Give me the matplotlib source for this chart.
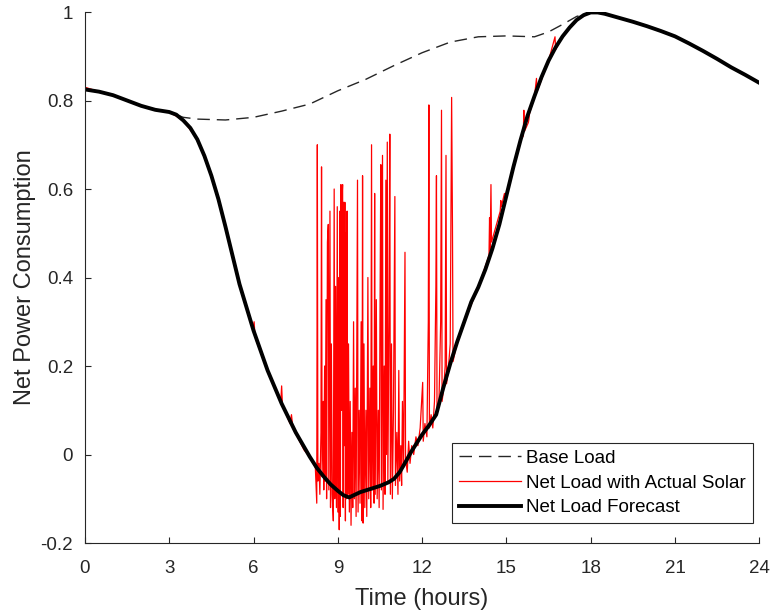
import matplotlib.pyplot as plt

plt.rcParams['font.family'] = ['Liberation Sans', 'DejaVu Sans']

# forecast net load (black)
fc_t = [0, 0.5, 1, 1.5, 2, 2.5, 3, 3.25, 3.5, 3.75, 4, 4.25, 4.5, 4.75, 5,
        5.5, 6, 6.5, 7, 7.5, 8, 8.25, 8.5, 8.75, 9, 9.2, 9.4, 9.6, 9.8, 10,
        10.5, 10.8, 11, 11.2, 11.4, 11.6, 11.8, 12, 12.25, 12.5, 12.75, 13,
        13.25, 13.5, 13.75, 14, 14.25, 14.5, 14.75, 15, 15.25, 15.5, 15.75,
        16, 16.25, 16.5, 16.75, 17, 17.25, 17.5, 17.75, 18, 18.25, 18.5, 19,
        19.5, 20, 20.5, 21, 21.5, 22, 22.5, 23, 23.5, 24]
fc_v = [0.825, 0.82, 0.812, 0.80, 0.788, 0.779, 0.774, 0.768, 0.755, 0.738,
        0.712, 0.675, 0.63, 0.577, 0.515, 0.385, 0.28, 0.19, 0.115, 0.05,
        -0.005, -0.03, -0.05, -0.068, -0.082, -0.092, -0.097, -0.091, -0.085,
        -0.081, -0.071, -0.063, -0.055, -0.04, -0.018, 0.005, 0.025, 0.045,
        0.066, 0.09, 0.15, 0.205, 0.255, 0.30, 0.345, 0.378, 0.418, 0.465,
        0.52, 0.585, 0.65, 0.71, 0.765, 0.81, 0.853, 0.89, 0.92, 0.945,
        0.965, 0.982, 0.993, 0.999, 0.999, 0.996, 0.987, 0.978, 0.968,
        0.957, 0.945, 0.929, 0.912, 0.894, 0.875, 0.858, 0.84]

# base load (dashed)
base_t = [0, 1, 2, 3, 3.5, 4, 5, 6, 7, 8, 9, 10, 11, 12, 13, 14, 15, 16,
          16.5, 17, 17.5, 18, 18.5, 19, 20, 21, 22, 23, 24]
base_v = [0.825, 0.812, 0.788, 0.774, 0.762, 0.758, 0.756, 0.762, 0.776,
          0.792, 0.822, 0.848, 0.879, 0.908, 0.932, 0.944, 0.946, 0.944,
          0.955, 0.972, 0.99, 0.999, 0.996, 0.987, 0.968, 0.945, 0.912,
          0.875, 0.84]

# net load with actual solar (red), (hour, value)
red_pts = [
    (0, 0.83), (0.5, 0.82), (1, 0.812), (1.5, 0.80), (2, 0.788), (2.5, 0.779),
    (3, 0.774), (3.5, 0.755), (4, 0.712), (4.5, 0.63), (5, 0.515), (5.5, 0.385),
    (5.98, 0.285), (6.02, 0.30), (6.05, 0.27), (6.08, 0.26), (6.5, 0.19),
    (6.97, 0.12), (7.0, 0.155), (7.03, 0.11), (7.3, 0.07), (7.35, 0.09),
    (7.4, 0.06), (7.8, 0.01), (8.0, -0.005), (8.2, -0.03),
    (8.25, -0.11), (8.27, 0.70), (8.29, -0.06), (8.33, -0.02), (8.36, -0.09),
    (8.40, 0.05), (8.42, 0.65), (8.44, -0.05), (8.48, 0.12), (8.50, -0.08),
    (8.53, 0.20), (8.55, -0.06), (8.58, 0.35), (8.60, -0.10), (8.63, 0.48),
    (8.66, 0.52), (8.68, -0.08), (8.72, 0.55), (8.74, -0.12), (8.77, 0.25),
    (8.80, -0.09), (8.84, -0.15), (8.87, 0.60), (8.89, -0.10), (8.92, 0.38),
    (8.95, -0.12), (8.98, 0.56), (9.00, -0.13), (9.03, 0.40), (9.05, -0.17),
    (9.07, 0.55), (9.09, -0.14), (9.11, 0.61), (9.13, 0.10), (9.15, 0.58),
    (9.17, 0.61), (9.19, -0.12), (9.21, 0.57), (9.23, 0.02), (9.25, 0.57),
    (9.27, -0.15), (9.29, 0.50), (9.31, -0.10), (9.33, 0.55), (9.35, -0.09),
    (9.38, 0.25), (9.41, -0.13), (9.44, 0.12), (9.47, -0.16), (9.50, 0.05),
    (9.53, -0.12), (9.56, 0.30), (9.59, -0.10), (9.62, 0.15), (9.65, -0.14),
    (9.70, 0.62), (9.72, -0.13), (9.76, 0.10), (9.79, -0.11), (9.83, 0.30),
    (9.86, -0.15), (9.88, 0.63), (9.90, -0.155), (9.93, 0.25), (9.96, -0.12),
    (10.00, 0.10), (10.03, -0.14), (10.07, 0.40), (10.10, -0.10),
    (10.14, 0.15), (10.17, -0.12), (10.20, 0.70), (10.22, -0.08),
    (10.26, 0.20), (10.29, -0.11), (10.31, 0.59), (10.33, -0.09),
    (10.37, 0.35), (10.40, -0.10), (10.44, 0.10), (10.47, -0.12),
    (10.50, 0.30), (10.53, 0.655), (10.55, -0.08), (10.59, 0.676),
    (10.61, -0.124), (10.65, 0.20), (10.68, -0.09), (10.71, 0.62),
    (10.73, 0.0), (10.76, 0.706), (10.78, -0.06), (10.82, 0.30),
    (10.85, 0.724), (10.87, -0.09), (10.91, 0.25), (10.94, -0.10),
    (10.98, 0.10), (11.03, 0.583), (11.05, -0.07), (11.10, 0.05),
    (11.14, -0.09), (11.17, 0.19), (11.20, -0.06), (11.24, 0.02),
    (11.27, -0.07), (11.30, 0.12), (11.34, -0.03), (11.39, 0.457),
    (11.41, -0.01), (11.47, -0.04), (11.52, 0.03), (11.57, -0.02),
    (11.63, 0.02), (11.70, 0.0), (11.78, 0.04), (11.85, 0.02), (11.93, 0.06),
    (12.02, 0.163), (12.04, 0.03), (12.10, 0.07), (12.17, 0.04),
    (12.22, 0.30), (12.24, 0.79), (12.26, 0.06), (12.32, 0.09),
    (12.38, 0.06), (12.44, 0.12), (12.49, 0.38), (12.51, 0.63),
    (12.53, 0.10), (12.60, 0.12), (12.66, 0.30), (12.69, 0.778),
    (12.71, 0.12), (12.77, 0.15), (12.82, 0.20), (12.85, 0.676),
    (12.87, 0.16), (12.93, 0.19), (13.00, 0.25), (13.05, 0.807),
    (13.08, 0.515), (13.10, 0.21), (13.25, 0.255), (13.5, 0.30), (14.0, 0.378),
    (14.38, 0.45), (14.40, 0.535), (14.42, 0.46), (14.45, 0.61),
    (14.47, 0.48), (14.78, 0.55), (14.80, 0.574), (14.82, 0.56),
    (14.93, 0.59), (14.95, 0.57), (15.5, 0.71), (15.6, 0.72), (15.62, 0.778),
    (15.64, 0.73), (15.78, 0.75), (15.80, 0.757), (15.82, 0.77), (16.0, 0.81),
    (16.07, 0.85), (16.09, 0.82), (16.5, 0.89), (16.73, 0.944),
    (16.75, 0.915), (17, 0.945), (17.5, 0.982), (18, 0.999), (18.5, 0.996),
    (19, 0.987), (20, 0.968), (21, 0.945), (22, 0.912), (23, 0.875),
    (24, 0.84),
]
red_t = [p[0] for p in red_pts]
red_v = [p[1] for p in red_pts]

ink = '#262626'

fig = plt.figure(figsize=(7.71, 6.16), dpi=100)
ax = fig.add_axes([0.1102, 0.1185, 0.8746, 0.862])

ax.plot(base_t, base_v, color=ink, linewidth=1.0, dashes=(9, 5), label='Base Load')
ax.plot(red_t, red_v, color='red', linewidth=0.9, label='Net Load with Actual Solar')
ax.plot(fc_t, fc_v, color='black', linewidth=2.8, label='Net Load Forecast')

ax.set_xlim(0, 24)
ax.set_ylim(-0.2, 1)
ax.set_xticks([0, 3, 6, 9, 12, 15, 18, 21, 24])
ax.set_yticks([-0.2, 0, 0.2, 0.4, 0.6, 0.8, 1])
ax.set_yticklabels(['-0.2', '0', '0.2', '0.4', '0.6', '0.8', '1'])

ax.spines['top'].set_visible(False)
ax.spines['right'].set_visible(False)
for s in ['left', 'bottom']:
    ax.spines[s].set_color(ink)
    ax.spines[s].set_linewidth(0.8)
ax.tick_params(direction='in', length=4, width=0.8, colors=ink, labelsize=13.5)
ax.tick_params(axis='x', pad=12)
ax.tick_params(axis='y', pad=8.5)

ax.set_xlabel('Time (hours)', fontsize=17, color=ink, labelpad=8)
ax.set_ylabel('Net Power Consumption', fontsize=17, color=ink, labelpad=3)

leg = ax.legend(loc='lower right', bbox_to_anchor=(0.991, 0.037), borderaxespad=0,
                fontsize=13.5, handlelength=3.3, handletextpad=0.3, labelspacing=0.4,
                borderpad=0.38, fancybox=False, framealpha=1, edgecolor=ink)
leg.get_frame().set_linewidth(0.8)

plt.savefig('out.png', dpi=100)
